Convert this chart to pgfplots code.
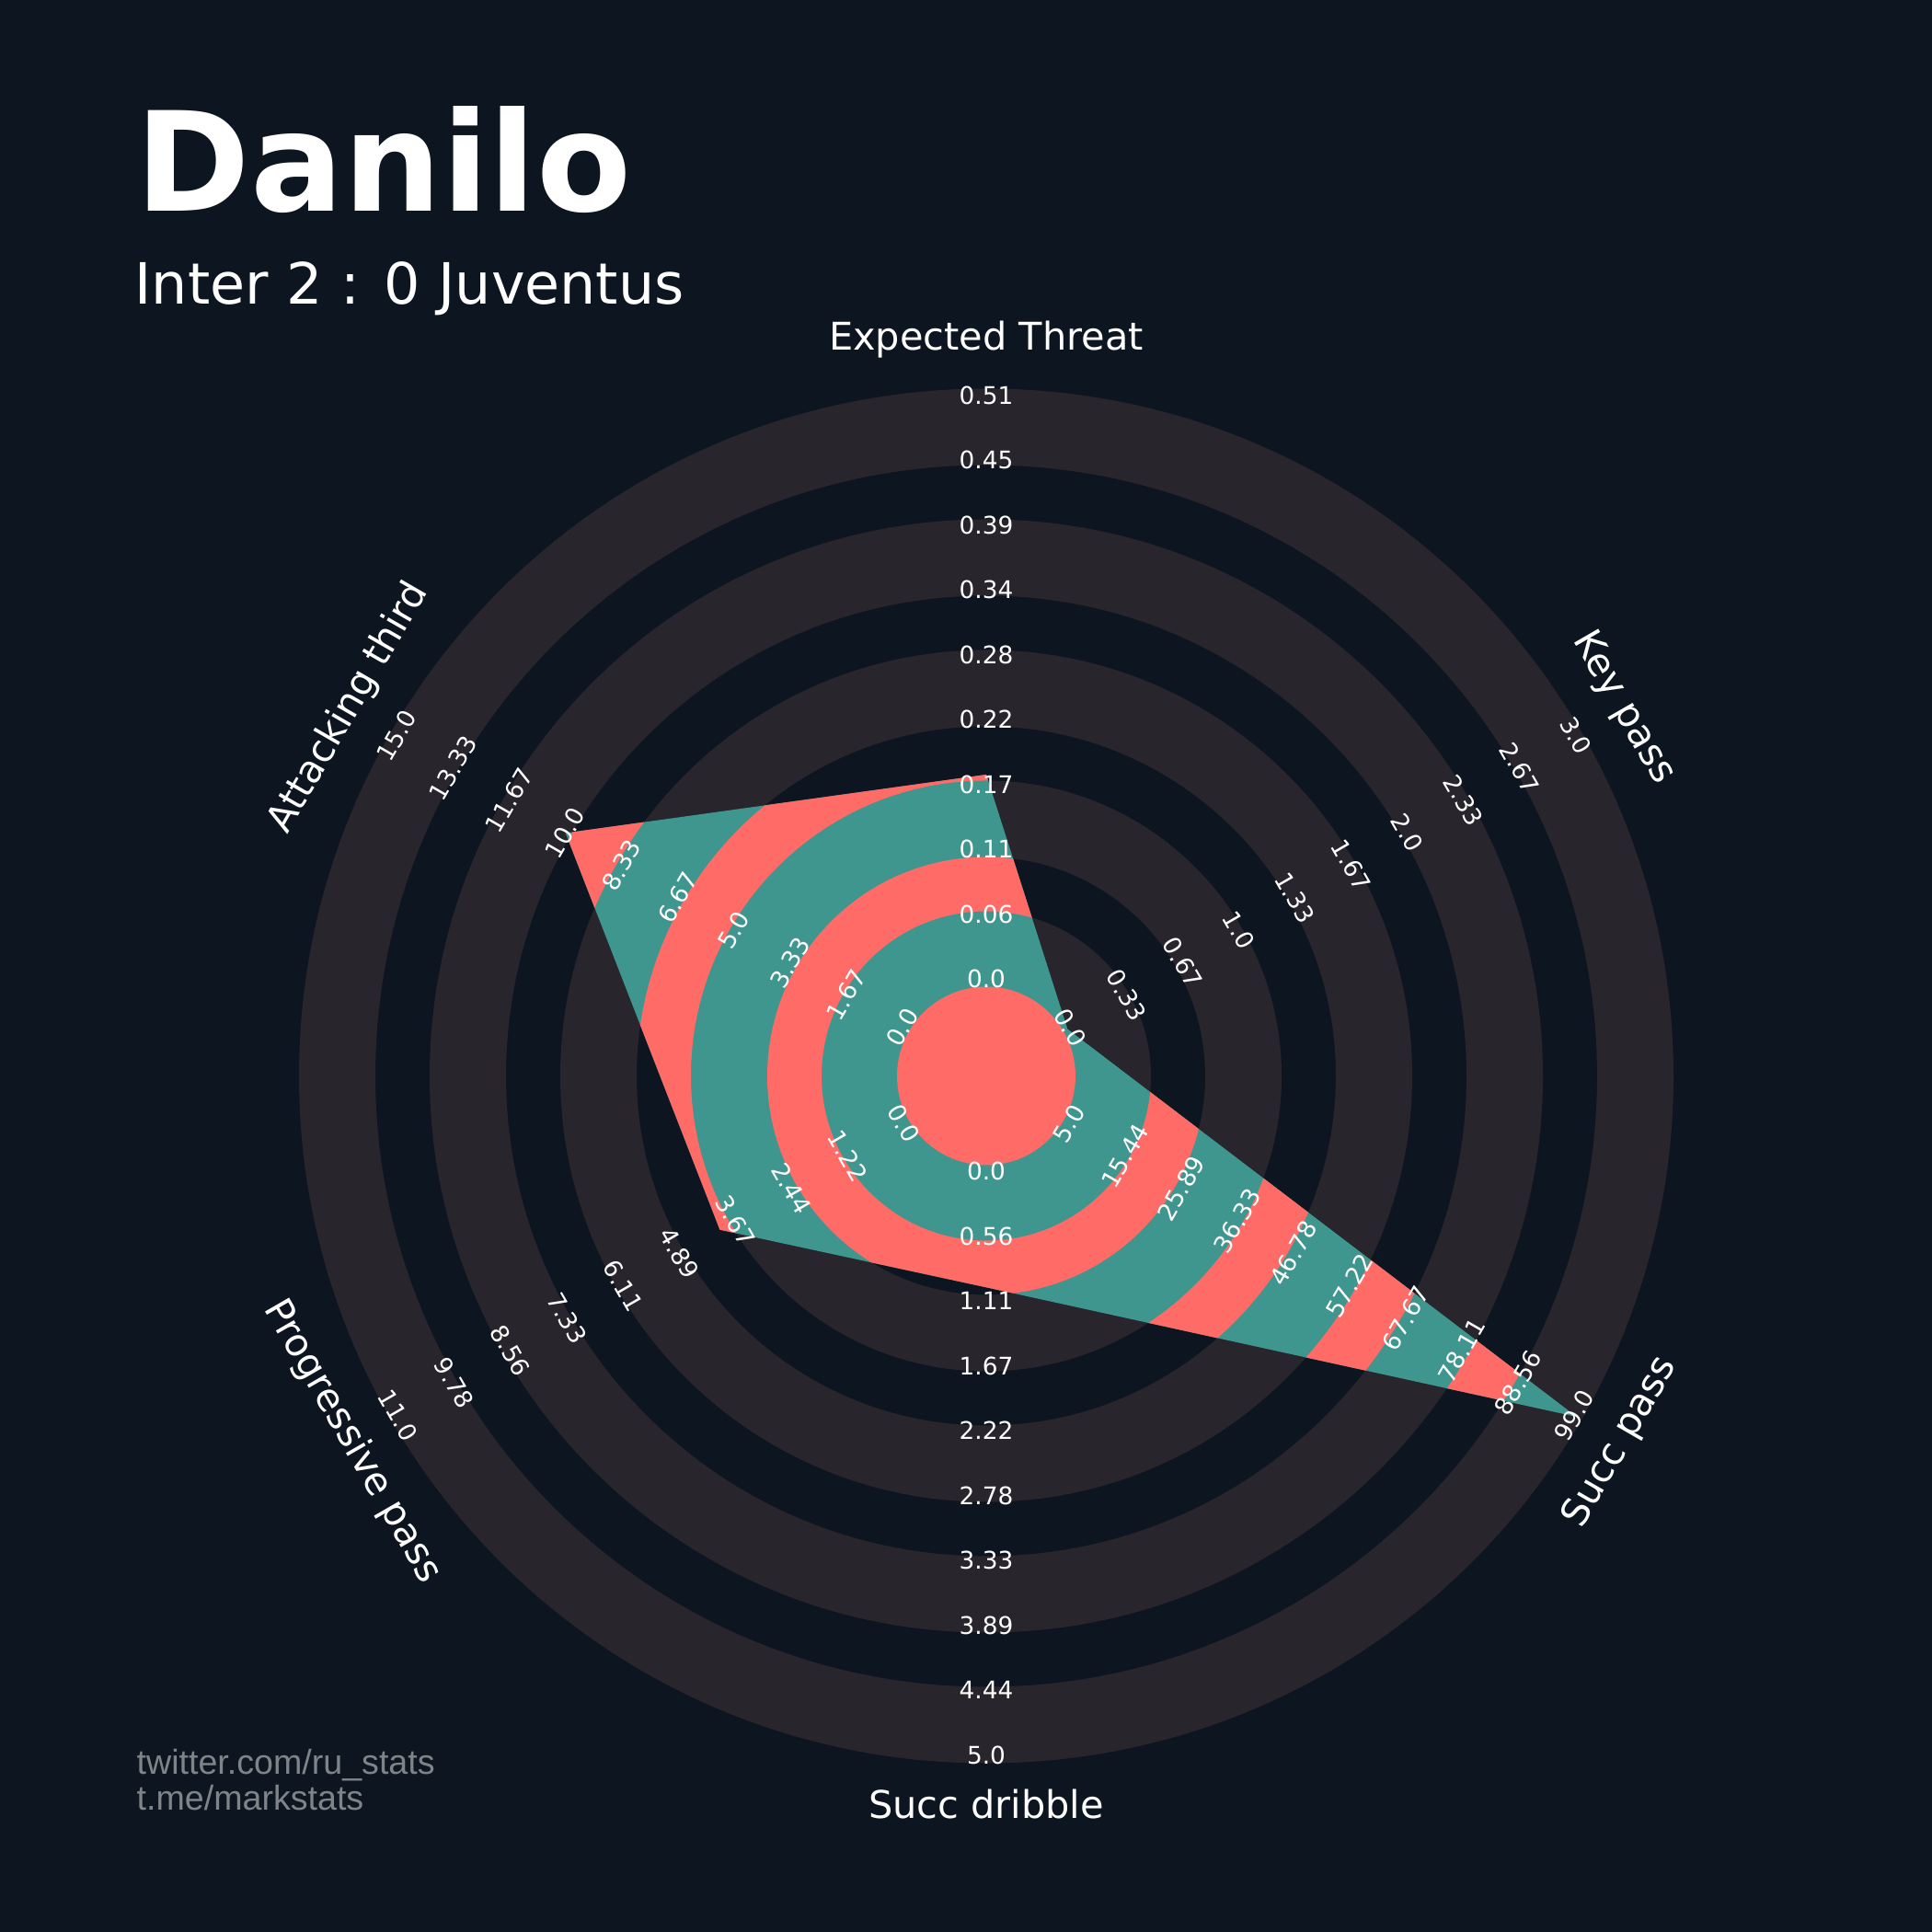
\documentclass[border=0pt]{standalone}
\usepackage{fontspec}
\setmainfont{DejaVu Sans}
\newfontfamily\footfont{Liberation Sans}
\usepackage{pgfplots}
\pgfplotsset{compat=1.18}
\usepackage{pgfplotstable}
\definecolor{bg}{HTML}{0D1620}
\definecolor{ring}{HTML}{28252C}
\definecolor{radarteal}{HTML}{3E968F}
\definecolor{radarred}{HTML}{FF6B66}
\definecolor{foot}{HTML}{7F8489}

% angle of the spoke, value, range of the spoke
\pgfplotstableread{
angle value lo hi
90   0.18  0  0.51
30   0     0  3
-30  99    5  99
-90  1     0  5
210  4     0  11
150  10    0  15
}\radar

% polygon path (in px from the centre) for clipping the inner rings
\gdef\polypath{}
\foreach \i in {0,...,5}{
  \pgfplotstablegetelem{\i}{angle}\of\radar \let\A\pgfplotsretval
  \pgfplotstablegetelem{\i}{value}\of\radar \let\V\pgfplotsretval
  \pgfplotstablegetelem{\i}{lo}\of\radar \let\L\pgfplotsretval
  \pgfplotstablegetelem{\i}{hi}\of\radar \let\H\pgfplotsretval
  \pgfmathsetmacro\F{(\V-\L)/(\H-\L)}
  \pgfmathsetmacro\R{102+639*\F}
  \pgfmathsetmacro\X{cos(\A)*\R}
  \pgfmathsetmacro\Y{sin(\A)*\R}
  \xdef\polypath{\polypath (axis cs:\X,\Y) --}
}

\begin{document}
\begin{tikzpicture}
\begin{axis}[
    x=0.1mm, y=0.1mm,
    xmin=-1072, xmax=1028,
    ymin=-930.5, ymax=1169.5,
    hide axis,
]
\fill[bg] (axis cs:-1072,-930.5) rectangle (axis cs:1028,1169.5);
% background rings
\fill[ring, even odd rule] (axis cs:0,0) circle[radius=74.7mm] circle[radius=66.4mm]
    circle[radius=60.5mm] circle[radius=52.2mm] circle[radius=46.3mm] circle[radius=38.0mm]
    circle[radius=32.1mm] circle[radius=23.8mm] circle[radius=17.9mm] circle[radius=9.6mm];

% radar polygon
\addplot[draw=none, fill=radarteal] table[
    x expr={cos(\thisrow{angle})*(102+639*(\thisrow{value}-\thisrow{lo})/(\thisrow{hi}-\thisrow{lo}))},
    y expr={sin(\thisrow{angle})*(102+639*(\thisrow{value}-\thisrow{lo})/(\thisrow{hi}-\thisrow{lo}))},
] {\radar};

% rings inside the polygon
\pgfplotsextra{%
  \begin{scope}
    \expandafter\clip\polypath cycle;
    \fill[radarred, even odd rule] (axis cs:0,0) circle[radius=9.7mm] circle[radius=17.9mm]
        circle[radius=23.8mm] circle[radius=32.1mm] circle[radius=38.0mm] circle[radius=46.3mm]
        circle[radius=52.2mm] circle[radius=60.5mm] circle[radius=66.4mm];
  \end{scope}
}

\node[anchor=base west, inner sep=0pt, text=white, font=\fontsize{42.7}{50}\selectfont\bfseries]
    at (axis cs:-925,939.5) {Danilo};
\node[anchor=base west, inner sep=0pt, text=white, font=\fontsize{17.6}{21}\selectfont]
    at (axis cs:-926,838.5) {Inter 2 : 0 Juventus};
\node[anchor=base west, inner sep=0pt, text=foot, font=\fontsize{10.7}{13}\selectfont\footfont]
    at (axis cs:-924,-759.2) {twitter.com/ru\_stats};
\node[anchor=base west, inner sep=0pt, text=foot, font=\fontsize{10.7}{13}\selectfont\footfont]
    at (axis cs:-924,-798.5) {t.me/markstats};

\coordinate (C) at (axis cs:0,0);
\coordinate (BL) at (rel axis cs:0,0);
\coordinate (TR) at (rel axis cs:1,1);
\end{axis}

% value labels along each spoke
\foreach \ang/\rot/\labs in {
    90/0/{0.0,0.06,0.11,0.17,0.22,0.28,0.34,0.39,0.45,0.51},
    30/-60/{0.0,0.33,0.67,1.0,1.33,1.67,2.0,2.33,2.67,3.0},
    -30/60/{5.0,15.44,25.89,36.33,46.78,57.22,67.67,78.11,88.56,99.0},
    -90/0/{0.0,0.56,1.11,1.67,2.22,2.78,3.33,3.89,4.44,5.0},
    210/-60/{0.0,1.22,2.44,3.67,4.89,6.11,7.33,8.56,9.78,11.0},
    150/60/{0.0,1.67,3.33,5.0,6.67,8.33,10.0,11.67,13.33,15.0}}{
  \foreach \l [count=\k from 0] in \labs {
    \path (C) ++(\ang:{10.45mm+7.05mm*\k}) node[rotate=\rot, inner sep=0pt, text=white,
        font=\fontsize{7.5}{9}\selectfont, text height=0.73em, text depth=0.24em] {\l};
  }
}

% parameter names
\foreach \ang/\rot/\name in {90/0/Expected Threat, 30/-60/Key pass, -30/60/Succ pass,
    -90/0/Succ dribble, 210/-60/Progressive pass, 150/60/Attacking third}{
  \path (C) ++(\ang:79.8mm) node[rotate=\rot, inner sep=0pt, text=white,
      font=\fontsize{11.8}{14}\selectfont, text height=0.76em, text depth=0.24em] {\name};
}

\pgfresetboundingbox
\useasboundingbox (BL) rectangle (TR);
\end{tikzpicture}
\end{document}
